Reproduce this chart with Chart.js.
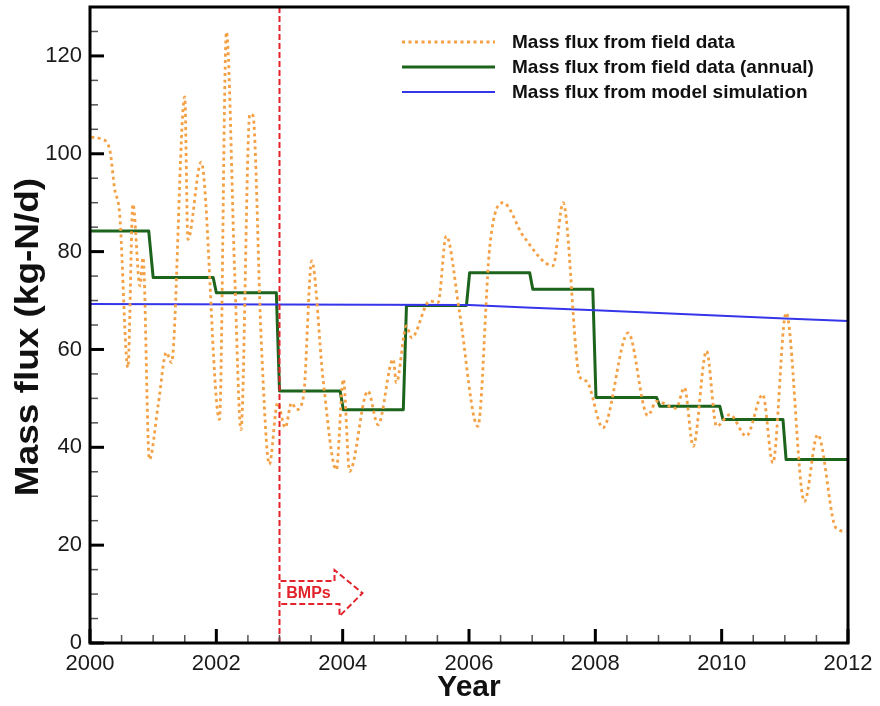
<!DOCTYPE html>
<html>
<head>
<meta charset="utf-8">
<script src="https://cdn.jsdelivr.net/npm/chart.js@4/dist/chart.umd.min.js"></script>
<style>
  html, body { margin: 0; padding: 0; background: #fff; }
  #wrap { width: 880px; height: 706px; }
</style>
</head>
<body>
<div id="wrap"><canvas id="c" width="880" height="706"></canvas></div>
<script>
// Field-measured nitrogen mass flux (kg-N/d), sampled through time
const fieldYears = [2000.02, 2000.18, 2000.31, 2000.39, 2000.47, 2000.60, 2000.68, 2000.79, 2000.84, 2000.94,
  2001.08, 2001.21, 2001.29, 2001.50, 2001.55, 2001.76, 2002.05, 2002.16, 2002.29, 2002.39,
  2002.53, 2002.58, 2002.71, 2002.84, 2002.97, 2003.09, 2003.19, 2003.27, 2003.38, 2003.51,
  2003.69, 2003.90, 2004.01, 2004.11, 2004.40, 2004.56, 2004.80, 2004.85, 2005.01, 2005.09,
  2005.38, 2005.51, 2005.64, 2005.85, 2006.14, 2006.33, 2006.54, 2006.86, 2007.33, 2007.49,
  2007.75, 2007.86, 2008.12, 2008.52, 2008.83, 2008.97, 2009.28, 2009.41, 2009.55, 2009.76,
  2009.92, 2010.13, 2010.39, 2010.65, 2010.81, 2011.02, 2011.31, 2011.52, 2011.81, 2011.97];
const fieldFlux = [103.4, 103.0, 101.0, 92.8, 87.6, 56.3, 89.7, 73.0, 78.8, 37.5,
  48.7, 59.4, 57.3, 111.6, 82.5, 98.3, 45.7, 124.9, 75.8, 43.6,
  108.1, 107.8, 62.0, 36.5, 49.1, 44.0, 49.1, 47.7, 50.4, 78.1,
  53.9, 35.4, 53.9, 35.1, 51.5, 44.6, 58.0, 53.2, 64.8, 62.4,
  69.9, 69.6, 83.2, 67.6, 44.3, 81.2, 90.0, 83.2, 77.1, 90.0,
  54.5, 53.5, 44.0, 63.4, 46.5, 49.4, 48.0, 52.2, 40.2, 59.7,
  44.3, 46.7, 42.3, 50.8, 36.8, 67.5, 28.9, 42.6, 23.5, 22.8];

// Annual averages of the field flux (step line)
const annualYears = [2000, 2000.93, 2001.00, 2001.95, 2002.00, 2002.95, 2003.00, 2003.96, 2004.01, 2004.96,
  2005.01, 2005.96, 2006.01, 2006.96, 2007.01, 2007.96, 2008.01, 2008.97, 2009.02, 2009.97,
  2010.02, 2010.97, 2011.02, 2012];
const annualFlux = [84.2, 84.2, 74.7, 74.7, 71.6, 71.6, 51.5, 51.5, 47.7, 47.7,
  69.0, 69.0, 75.7, 75.7, 72.3, 72.3, 50.2, 50.2, 48.4, 48.4,
  45.7, 45.7, 37.5, 37.5];

// Model-simulated flux
const modelYears = [2000, 2003, 2006, 2007, 2008, 2009, 2010, 2011, 2012];
const modelFlux = [69.3, 69.2, 69.1, 68.55, 68.0, 67.45, 66.9, 66.35, 65.8];

// Start of the BMPs period
const bmpYear = 2003;

// Axis ranges and tick steps
const xRange = [2000, 2012];
const yRange = [0, 130];
const xMajorStep = 2, xMinorStep = 0.5;
const yMajorStep = 20, yMinorStep = 5;

const seriesLabels = [
  'Mass flux from field data',
  'Mass flux from field data (annual)',
  'Mass flux from model simulation'
];
const yTitle = 'Mass flux (kg-N/d)';

const toPoints = (xs, ys) => xs.map((x, i) => ({ x: x, y: ys[i] }));

const COL_FIELD = '#f4a044';
const COL_ANNUAL = '#1c631c';
const COL_MODEL = '#3535ea';
const COL_RED = '#e2232b';
const FONT = "'Liberation Sans', Arial, Helvetica, sans-serif";

// Inward ticks (major + minor) and the closed black frame
const frameTicks = {
  id: 'frameTicks',
  afterDraw(chart) {
    const { ctx, chartArea: a, scales: { x, y } } = chart;
    ctx.save();
    const seg = (x1, y1, x2, y2) => { ctx.beginPath(); ctx.moveTo(x1, y1); ctx.lineTo(x2, y2); ctx.stroke(); };
    ctx.strokeStyle = '#555';
    ctx.lineWidth = 1.5;
    for (let v = xRange[0]; v <= xRange[1] + 1e-9; v += xMinorStep) {
      const px = x.getPixelForValue(v);
      seg(px, a.bottom, px, a.bottom - 8);
    }
    for (let v = yRange[0]; v <= yRange[1] + 1e-9; v += yMinorStep) {
      const py = y.getPixelForValue(v);
      seg(a.left, py, a.left + 8, py);
    }
    ctx.strokeStyle = '#000';
    ctx.lineWidth = 3;
    x.ticks.forEach(t => { const px = x.getPixelForValue(t.value); seg(px, a.bottom, px, a.bottom - 14); });
    y.ticks.forEach(t => { const py = y.getPixelForValue(t.value); seg(a.left, py, a.left + 14, py); });
    ctx.lineWidth = 3;
    ctx.strokeRect(a.left, a.top, a.right - a.left, a.bottom - a.top);
    ctx.restore();
  }
};

// Vertical y-axis title, slightly stretched along its length
const yAxisTitle = {
  id: 'yAxisTitle',
  afterDraw(chart) {
    const { ctx, chartArea: a } = chart;
    ctx.save();
    ctx.translate(29, (a.top + a.bottom) / 2 + 12);
    ctx.rotate(-Math.PI / 2);
    ctx.scale(1.12, 1);
    ctx.fillStyle = '#111';
    ctx.font = 'bold 33px ' + FONT;
    ctx.textAlign = 'center';
    ctx.textBaseline = 'middle';
    ctx.fillText(yTitle, 0, 0);
    ctx.restore();
  }
};

// Dashed "BMPs" arrow pointing right from the BMP start line
const bmpArrow = {
  id: 'bmpArrow',
  afterDatasetsDraw(chart) {
    const { ctx, scales: { x, y } } = chart;
    const x0 = x.getPixelForValue(bmpYear) + 1;
    const cy = y.getPixelForValue(10.2);
    ctx.save();
    ctx.strokeStyle = COL_RED;
    ctx.lineWidth = 2;
    ctx.setLineDash([6, 3]);
    ctx.beginPath();
    ctx.moveTo(x0, cy - 12);
    ctx.lineTo(x0 + 54, cy - 12);
    ctx.lineTo(x0 + 54, cy - 23);
    ctx.lineTo(x0 + 82, cy);
    ctx.lineTo(x0 + 59, cy + 23);
    ctx.lineTo(x0 + 59, cy + 11);
    ctx.lineTo(x0, cy + 11);
    ctx.stroke();
    ctx.setLineDash([]);
    ctx.fillStyle = COL_RED;
    ctx.font = 'bold 16px ' + FONT;
    ctx.textAlign = 'center';
    ctx.textBaseline = 'middle';
    ctx.fillText('BMPs', x0 + 28, cy);
    ctx.restore();
  }
};

// Legend in the upper right of the plot
const innerLegend = {
  id: 'innerLegend',
  afterDraw(chart) {
    const { ctx, chartArea: a } = chart;
    const styles = [
      { color: COL_FIELD, width: 2.8, dash: [3, 3.5] },
      { color: COL_ANNUAL, width: 3, dash: [] },
      { color: COL_MODEL, width: 2, dash: [] }
    ];
    ctx.save();
    seriesLabels.forEach((label, i) => {
      const yy = a.top + 35 + i * 25;
      const s = styles[i];
      ctx.strokeStyle = s.color;
      ctx.lineWidth = s.width;
      ctx.setLineDash(s.dash);
      ctx.beginPath();
      ctx.moveTo(a.right - 446, yy);
      ctx.lineTo(a.right - 353, yy);
      ctx.stroke();
      ctx.setLineDash([]);
      ctx.fillStyle = '#111';
      ctx.font = 'bold 19px ' + FONT;
      ctx.textAlign = 'left';
      ctx.textBaseline = 'middle';
      ctx.fillText(label, a.right - 336, yy + 1);
    });
    ctx.restore();
  }
};

new Chart(document.getElementById('c'), {
  type: 'line',
  data: {
    datasets: [
      {
        label: 'BMP start',
        data: toPoints([bmpYear, bmpYear], yRange),
        borderColor: COL_RED,
        borderWidth: 2,
        borderDash: [6, 3],
        pointRadius: 0,
        order: 0
      },
      {
        label: seriesLabels[0],
        data: toPoints(fieldYears, fieldFlux),
        borderColor: COL_FIELD,
        borderWidth: 2.8,
        borderDash: [3, 3.5],
        cubicInterpolationMode: 'monotone',
        pointRadius: 0,
        order: 1
      },
      {
        label: seriesLabels[2],
        data: toPoints(modelYears, modelFlux),
        borderColor: COL_MODEL,
        borderWidth: 2,
        pointRadius: 0,
        tension: 0,
        order: 2
      },
      {
        label: seriesLabels[1],
        data: toPoints(annualYears, annualFlux),
        borderColor: COL_ANNUAL,
        borderWidth: 3,
        pointRadius: 0,
        tension: 0,
        borderJoinStyle: 'round',
        order: 3
      }
    ]
  },
  options: {
    responsive: false,
    animation: false,
    devicePixelRatio: 1,
    layout: { padding: { top: 7, right: 32, left: 0, bottom: 0 } },
    plugins: { legend: { display: false }, tooltip: { enabled: false } },
    elements: { line: { fill: false } },
    scales: {
      x: {
        type: 'linear',
        min: xRange[0],
        max: xRange[1],
        afterFit: s => { s.height = 63; s.paddingLeft = 0; s.paddingRight = 0; },
        border: { display: false },
        grid: { display: false, drawTicks: false },
        ticks: {
          stepSize: xMajorStep,
          padding: 8,
          color: '#1a1a1a',
          font: { family: FONT, size: 22 },
          maxRotation: 0,
          callback: v => String(v)
        },
        title: {
          display: true,
          text: 'Year',
          color: '#111',
          font: { family: FONT, size: 30, weight: 'bold' },
          padding: { top: 0, bottom: 0 }
        }
      },
      y: {
        type: 'linear',
        min: yRange[0],
        max: yRange[1],
        afterFit: s => { s.width = 90; s.paddingTop = 0; s.paddingBottom = 0; },
        afterBuildTicks: s => { s.ticks = s.ticks.filter(t => t.value % yMajorStep === 0); },
        border: { display: false },
        grid: { display: false, drawTicks: false },
        ticks: {
          stepSize: yMajorStep,
          padding: 8,
          color: '#1a1a1a',
          font: { family: FONT, size: 22 }
        },
        title: { display: false }
      }
    }
  },
  plugins: [frameTicks, yAxisTitle, bmpArrow, innerLegend]
});
</script>
</body>
</html>
